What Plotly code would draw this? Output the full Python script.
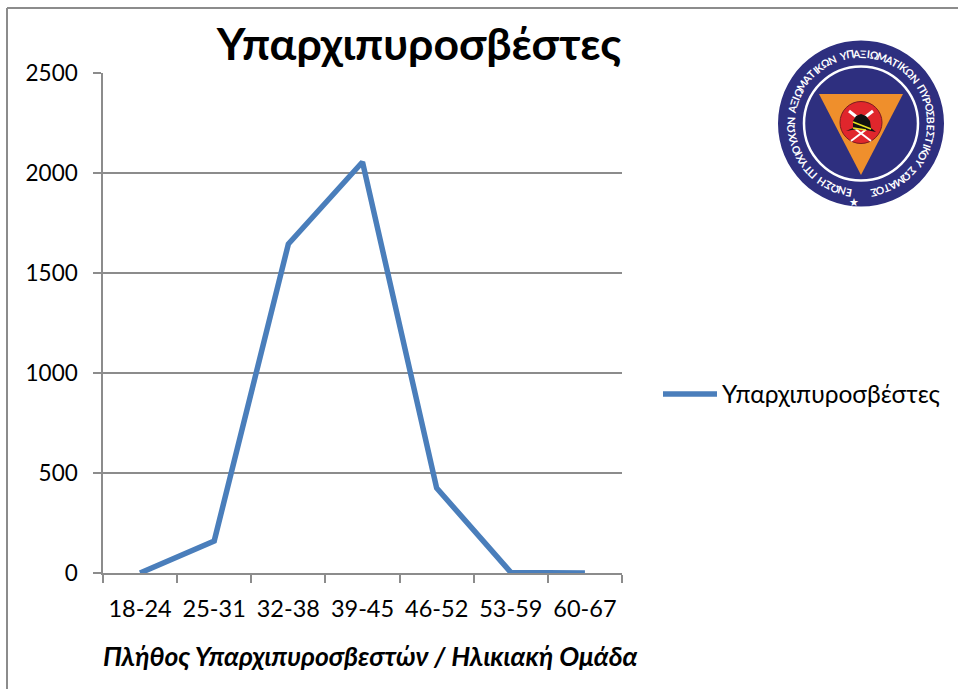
import math
import plotly.graph_objects as go

age_groups = ["18-24", "25-31", "32-38", "39-45", "46-52", "53-59", "60-67"]
firefighters = [0, 160, 1645, 2055, 425, 3, 0]
y_ticks = [0, 500, 1000, 1500, 2000, 2500]
series_name = "Υπαρχιπυροσβέστες"
chart_title = "Υπαρχιπυροσβέστες"
x_title = "Πλήθος Υπαρχιπυροσβεστών / Ηλικιακή Ομάδα"
logo_text = "ΕΝΩΣΗ ΠΤΥΧΙΟΥΧΩΝ ΑΞΙΩΜΑΤΙΚΩΝ ΥΠΑΞΙΩΜΑΤΙΚΩΝ ΠΥΡΟΣΒΕΣΤΙΚΟΥ ΣΩΜΑΤΟΣ"

W, H = 958, 689
L, R, T, B = 103, 622, 73, 573
FONT = "Lato, 'Noto Sans', sans-serif"
GRID = "#8c8c8c"

def px(x):
    return (x - L) / (R - L)

def py(y):
    return (B - y) / (B - T)

def path(points, close=True):
    s = "M " + " L ".join(f"{px(x):.5f},{py(y):.5f}" for x, y in points)
    return s + (" Z" if close else "")

def circle(cx, cy, r, **kw):
    return dict(type="circle", xref="paper", yref="paper", layer="above",
                x0=px(cx - r), x1=px(cx + r), y0=py(cy + r), y1=py(cy - r), **kw)

def seg(x0, y0, x1, y1, color="white", width=2):
    return dict(type="line", xref="paper", yref="paper", layer="above",
                x0=px(x0), x1=px(x1), y0=py(y0), y1=py(y1), line=dict(color=color, width=width))

fig = go.Figure(go.Scatter(
    x=age_groups, y=firefighters, name=series_name, mode="lines",
    line=dict(color="#4a7ebb", width=5.5), cliponaxis=False,
))

CX, CY = 861, 123.5
nl = dict(width=0)
shapes = [
    seg(7, 8, 7, H, "#8c8c8c", 2),
    seg(7, 8, W, 8, "#8c8c8c", 2),
    circle(CX, CY, 83, fillcolor="#2e2f7f", line=nl),
    circle(CX, CY, 57, fillcolor="#2e2f7f", line=dict(color="white", width=2.5)),
    dict(type="path", xref="paper", yref="paper", layer="above", fillcolor="#ef8f2c", line=nl,
         path=path([(819, 94), (903, 94), (861, 175)])),
    circle(861, 122.5, 21, fillcolor="#e0262c", line=dict(color="#7a1a20", width=1)),
    seg(851, 141, 868, 128),
    seg(871, 141, 854, 128),
    seg(849, 111, 858, 118, width=3),
    seg(873, 111, 864, 118, width=3),
    dict(type="path", xref="paper", yref="paper", layer="above", fillcolor="#111111", line=nl,
         path=path([(846, 131), (853, 128), (853, 121), (856, 116), (861, 114), (866, 116), (870, 121), (871, 128), (876, 132), (866, 130), (858, 129)])),
    seg(853, 122, 871, 129, "#e8e020", 1.5),
    seg(853, 128, 866, 130, "#e8e020", 1.5),
]

annotations = [dict(
    x=px(370), y=py(656), xref="paper", yref="paper", text=f"<b><i>{x_title}</i></b>", showarrow=False,
    font=dict(family=FONT, size=26.5, color="#000000"), xanchor="center", yanchor="middle",
)]

def glyph_weight(ch):
    return 0.45 if ch == "Ι" else 0.7 if ch == " " else 1.25 if ch in "ΩΜ" else 1.0

weights = [glyph_weight(c) for c in logo_text]
unit = 345 / sum(weights)
pos = 187.5
for ch, wt in zip(logo_text, weights):
    theta = pos + wt * unit / 2
    pos += wt * unit
    a = math.radians(theta)
    annotations.append(dict(
        x=px(CX + 70 * math.sin(a)), y=py(CY - 70 * math.cos(a)),
        xref="paper", yref="paper", text=f"<b>{ch}</b>", showarrow=False, textangle=theta % 360,
        font=dict(family=FONT, size=10.5, color="white"), xanchor="center", yanchor="middle",
    ))
annotations.append(dict(x=px(CX), y=py(CY + 70), xref="paper", yref="paper", text="★", showarrow=False,
                        font=dict(family="DejaVu Sans", size=11, color="white")))

fig.update_layout(
    width=W, height=H, margin=dict(l=L, r=W - R, t=T, b=H - B),
    paper_bgcolor="white", plot_bgcolor="white",
    font=dict(family=FONT, size=22.5, color="#000000"),
    title=dict(text=f"<b>{chart_title}</b>", x=419 / W, xanchor="center", xref="container",
               y=1 - 44 / H, yanchor="middle", yref="container", font=dict(size=44.5)),
    legend=dict(x=px(658), xanchor="left", y=py(394), yanchor="middle", itemwidth=54,
                font=dict(size=24.5), bgcolor="rgba(0,0,0,0)", borderwidth=0),
    showlegend=True,
    shapes=shapes, annotations=annotations,
    xaxis=dict(type="category", tickson="boundaries", categoryorder="array", categoryarray=age_groups,
               range=[-0.5, 6.5], ticks="outside", ticklen=8, tickcolor=GRID, tickwidth=1.5,
               tickfont=dict(size=23.5),
               showgrid=False, showline=True, linecolor=GRID, linewidth=1.5, ticklabelstandoff=14),
    yaxis=dict(range=[0, 2500], tickmode="array", tickvals=y_ticks, ticks="outside", ticklen=8,
               tickcolor=GRID, tickwidth=1.5, showgrid=True, gridcolor=GRID, gridwidth=1.5,
               showline=True, linecolor=GRID, linewidth=1.5, zeroline=False, ticklabelstandoff=11),
)

fig.write_html("out.html", config=dict(displayModeBar=False),
               post_script="document.body.style.margin='0';document.body.style.overflow='hidden';")
